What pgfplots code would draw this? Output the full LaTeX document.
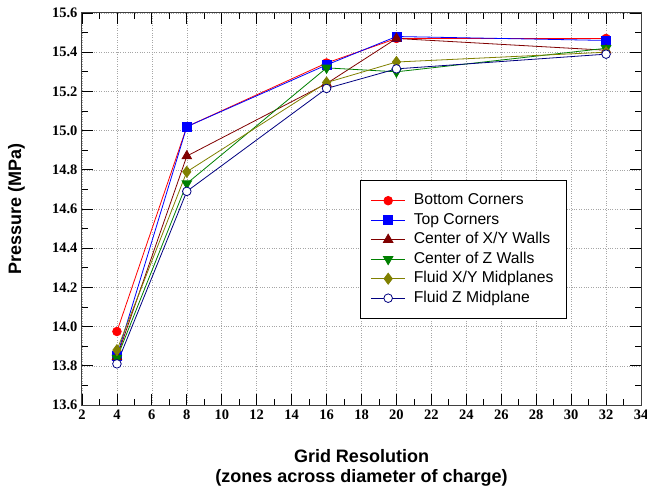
\documentclass[border=0pt]{standalone}
\usepackage{fontspec}
\setmainfont{Liberation Serif}
\newfontfamily\labelfont{Liberation Sans}
\usepackage{pgfplots}
\pgfplotsset{compat=1.18}
\definecolor{cRed}{HTML}{FF0000}
\definecolor{cBlue}{HTML}{0000FF}
\definecolor{cDred}{HTML}{800000}
\definecolor{cGreen}{HTML}{008000}
\definecolor{cOlive}{HTML}{808000}
\definecolor{cNavy}{HTML}{000080}
\begin{document}
\begin{tikzpicture}
\useasboundingbox (-82pt,-85pt) rectangle (565pt,405pt);
\begin{axis}[
  at={(0,0)}, anchor=south west,
  scale only axis, width=559pt, height=392pt,
  xmin=2, xmax=34, ymin=13.6, ymax=15.6,
  xtick={2,4,6,8,10,12,14,16,18,20,22,24,26,28,30,32,34},
  ytick={13.6,13.8,14.0,14.2,14.4,14.6,14.8,15.0,15.2,15.4,15.6},
  minor x tick num=1, minor y tick num=1,
  major tick length=11pt, minor tick length=6pt,
  tick style={black, line width=0.8pt},
  axis line style={black!75, line width=1pt},
  grid=major,
  major grid style={dotted, black!35, line width=0.6pt},
  xticklabel={\pgfmathprintnumber[assume math mode=true]{\tick}},
  yticklabel={\pgfmathprintnumber[assume math mode=true,fixed,fixed zerofill,precision=1]{\tick}},
  ticklabel style={font=\rmfamily\bfseries\fontsize{14.5}{17}\selectfont},
  yticklabel style={xshift=-1pt},
  xticklabel style={yshift=-1pt},
  ylabel={Pressure (MPa)},
  ylabel style={at={(axis description cs:-0.1172,0.5)}, anchor=center, font=\labelfont\bfseries\fontsize{18}{20}\selectfont},
  xlabel={Grid Resolution\\(zones across diameter of charge)},
  xlabel style={align=center, at={(axis description cs:0.5,0)}, anchor=north, yshift=-40.5pt, font=\labelfont\bfseries\fontsize{18}{20}\selectfont},
  legend style={at={(axis description cs:0.497,0.574)}, anchor=north west,
    draw=black, line width=0.9pt, fill=white,
    inner xsep=10.5pt, inner ysep=10.5pt,
    font=\labelfont\fontsize{15.7}{18}\selectfont,
    nodes={text height=11.5pt, text depth=3.5pt, inner sep=2.25pt, line width=0.8pt},
    row sep=0pt, column sep=6pt},
  legend cell align=left,
  legend image code/.code={\draw[mark repeat=2, mark phase=2, #1] plot coordinates {(0pt,0pt) (17pt,0pt) (34pt,0pt)};},
  every axis plot/.append style={line width=0.8pt},
]
\addplot[color=cRed, mark=*, mark size=4.3pt, mark options={solid, fill=cRed}] coordinates {
 (4,13.975) (8,15.02) (16,15.345) (20,15.47) (32,15.47)};
\addlegendentry{Bottom Corners}
\addplot[color=cBlue, mark=square*, mark size=4.5pt, mark options={solid, fill=cBlue}] coordinates {
 (4,13.85) (8,15.02) (16,15.335) (20,15.48) (32,15.46)};
\addlegendentry{Top Corners}
\addplot[color=cDred, mark=triangle*, mark size=5.5pt, mark options={solid, fill=cDred}] coordinates {
 (4,13.845) (8,14.87) (16,15.24) (20,15.47) (32,15.41)};
\addlegendentry{Center of X/Y Walls}
\addplot[color=cGreen, mark=triangle*, mark size=5.5pt, mark options={solid, fill=cGreen, rotate=180}] coordinates {
 (4,13.84) (8,14.73) (16,15.32) (20,15.30) (32,15.42)};
\addlegendentry{Center of Z Walls}
\addplot[color=cOlive, mark=diamond*, mark size=5.5pt, mark options={solid, fill=cOlive}] coordinates {
 (4,13.88) (8,14.79) (16,15.245) (20,15.35) (32,15.40)};
\addlegendentry{Fluid X/Y Midplanes}
\addplot[color=cNavy, mark=*, mark size=4.3pt, mark options={solid, fill=white}] coordinates {
 (4,13.81) (8,14.69) (16,15.215) (20,15.315) (32,15.39)};
\addlegendentry{Fluid Z Midplane}
\end{axis}
\end{tikzpicture}
\end{document}
